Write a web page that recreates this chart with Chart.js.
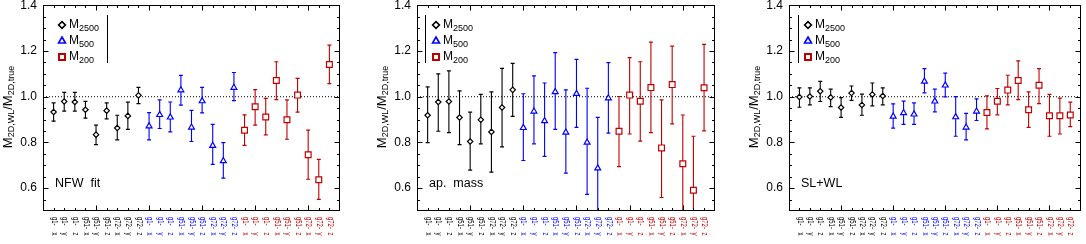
<!DOCTYPE html>
<html>
<head>
<meta charset="utf-8">
<script src="https://cdn.jsdelivr.net/npm/chart.js"></script>
<style>
html, body { margin: 0; padding: 0; background: #fff; }
#wrap { position: relative; width: 1086px; height: 244px; overflow: hidden; }
canvas { position: absolute; top: 0; }
</style>
</head>
<body>
<div id="wrap">
  <canvas id="c1" width="360" height="244" style="left:0px"></canvas>
  <canvas id="c2" width="360" height="244" style="left:360px"></canvas>
  <canvas id="c3" width="366" height="244" style="left:720px"></canvas>
</div>
<script>
// categories (same 9 projections for each mass definition)
const projections = ["g1-x", "g1-y", "g1-z", "g51-x", "g51-y", "g51-z", "g72-x", "g72-y", "g72-z"];
const massNames = ["2500", "500", "200"];
const yTicks = [0.6, 0.8, 1.0, 1.2, 1.4];

// NFW fit
const nfwMid  = [0.933, 0.979, 0.977, 0.943, 0.834, 0.939, 0.863, 0.916, 1.006,
                 0.871, 0.921, 0.910, 1.029, 0.866, 0.981, 0.786, 0.719, 1.040,
                 0.853, 0.956, 0.911, 1.071, 0.899, 1.007, 0.746, 0.637, 1.141];
const nfwLow  = [0.893, 0.937, 0.937, 0.906, 0.790, 0.903, 0.811, 0.857, 0.970,
                 0.811, 0.861, 0.846, 0.963, 0.804, 0.929, 0.704, 0.644, 0.983,
                 0.787, 0.876, 0.833, 0.987, 0.814, 0.933, 0.639, 0.551, 1.057];
const nfwHigh = [0.973, 1.019, 1.019, 0.980, 0.876, 0.973, 0.919, 0.976, 1.041,
                 0.930, 0.986, 0.977, 1.093, 0.940, 1.041, 0.879, 0.799, 1.106,
                 0.921, 1.031, 0.993, 1.153, 0.986, 1.080, 0.854, 0.726, 1.226];

// aperture mass
const apMid  = [0.919, 0.977, 0.979, 0.909, 0.804, 0.899, 0.846, 0.953, 1.030,
                0.864, 0.936, 0.894, 1.021, 0.844, 1.013, 0.800, 0.687, 0.994,
                0.849, 1.007, 0.980, 1.040, 0.776, 1.053, 0.707, 0.591, 1.039];
const apLow  = [0.799, 0.849, 0.843, 0.790, 0.679, 0.794, 0.670, 0.781, 0.914,
                0.721, 0.794, 0.739, 0.857, 0.666, 0.866, 0.573, 0.470, 0.841,
                0.694, 0.837, 0.806, 0.843, 0.559, 0.881, 0.480, 0.350, 0.851];
const apHigh = [1.043, 1.100, 1.113, 1.026, 0.933, 1.010, 1.021, 1.124, 1.146,
                1.013, 1.091, 1.060, 1.193, 1.030, 1.163, 1.037, 0.910, 1.149,
                1.001, 1.171, 1.153, 1.239, 0.986, 1.221, 0.920, 0.827, 1.229];

// SL+WL
const slMid  = [0.999, 1.001, 1.024, 0.997, 0.953, 1.016, 0.964, 1.010, 1.003,
                0.914, 0.929, 0.923, 1.067, 0.980, 1.050, 0.911, 0.866, 0.936,
                0.931, 0.980, 1.029, 1.071, 0.943, 1.050, 0.917, 0.917, 0.920];
const slLow  = [0.954, 0.964, 0.979, 0.957, 0.910, 0.984, 0.919, 0.960, 0.964,
                0.863, 0.879, 0.879, 1.017, 0.934, 0.999, 0.827, 0.811, 0.896,
                0.859, 0.921, 0.964, 0.987, 0.866, 0.970, 0.827, 0.837, 0.869];
const slHigh = [1.039, 1.039, 1.067, 1.033, 0.996, 1.047, 1.011, 1.060, 1.039,
                0.969, 0.981, 0.973, 1.123, 1.033, 1.103, 1.000, 0.927, 0.991,
                1.004, 1.036, 1.094, 1.157, 1.021, 1.123, 1.010, 0.994, 0.976];

const groupColor = ["#000000", "#0000ff", "#c00000"];
const groupShape = ["rectRot", "triangle", "rect"];
const shapeRadius = { rectRot: 2.7, triangle: 3.4, rect: 4.1 };
const FONT = '"Liberation Sans", Arial, sans-serif';

function grp(i) { return Math.floor(i / 9); }

// draws pieces [text, size, dy] one after another
function drawPieces(ctx, pieces, x, y) {
    let cx = x;
    pieces.forEach(p => {
        ctx.font = p[1] + "px " + FONT;
        ctx.fillText(p[0], cx, y + p[2]);
        cx += ctx.measureText(p[0]).width;
    });
    return cx - x;
}
function piecesWidth(ctx, pieces) {
    let w = 0;
    pieces.forEach(p => { ctx.font = p[1] + "px " + FONT; w += ctx.measureText(p[0]).width; });
    return w;
}

function legendMarker(ctx, shape, x, y, color) {
    ctx.save();
    ctx.strokeStyle = color;
    ctx.fillStyle = "#fff";
    ctx.beginPath();
    if (shape === "rectRot") {
        ctx.lineWidth = 1.6;
        const r = 3.4;
        ctx.moveTo(x, y - r); ctx.lineTo(x + r, y); ctx.lineTo(x, y + r); ctx.lineTo(x - r, y); ctx.closePath();
    } else if (shape === "triangle") {
        ctx.lineWidth = 1.6;
        const r = 4;
        ctx.moveTo(x, y - r); ctx.lineTo(x + r * 0.866, y + r * 0.5); ctx.lineTo(x - r * 0.866, y + r * 0.5); ctx.closePath();
    } else {
        ctx.lineWidth = 2;
        ctx.rect(x - 3, y - 3, 6, 6);
    }
    ctx.fill();
    ctx.stroke();
    ctx.restore();
}

const framePlugin = {
    id: "frame",
    afterDraw(chart, args, o) {
        const ctx = chart.ctx, a = chart.chartArea;
        const xs = chart.scales.x, ys = chart.scales.y;
        ctx.save();
        ctx.strokeStyle = "#000";
        ctx.lineWidth = 1;
        const L = Math.round(a.left) + 0.5, R = Math.round(a.right) - 0.5;
        const T = Math.round(a.top) + 0.5, B = Math.round(a.bottom) - 0.5;
        ctx.strokeRect(L, T, R - L, B - T);
        ctx.beginPath();
        for (let v = 1; v <= 27; v++) {
            const px = Math.round(xs.getPixelForValue(v)) + 0.5;
            const len = v % 5 === 0 ? 5 : 2.5;
            ctx.moveTo(px, B); ctx.lineTo(px, B - len);
            ctx.moveTo(px, T); ctx.lineTo(px, T + len);
        }
        for (let k = 1; k < 18; k++) {
            const py = Math.round(ys.getPixelForValue(0.5 + k * 0.05)) + 0.5;
            const len = (k - 2) % 4 === 0 ? 5 : 2.5;
            ctx.moveTo(L, py); ctx.lineTo(L + len, py);
            ctx.moveTo(R, py); ctx.lineTo(R - len, py);
        }
        ctx.stroke();

        // y tick labels
        ctx.fillStyle = "#000";
        ctx.font = "12px " + FONT;
        ctx.textAlign = "right";
        ctx.textBaseline = "middle";
        yTicks.forEach(v => {
            const py = Math.max(ys.getPixelForValue(v), 5.5);
            ctx.fillText(v.toFixed(1), a.left - 6, py);
        });

        // x category labels, rotated
        ctx.textAlign = "left";
        for (let i = 0; i < 27; i++) {
            const lab = projections[i % 9];
            const px = xs.getPixelForValue(i + 1);
            ctx.save();
            ctx.translate(px + 0.5, 217);
            ctx.rotate(Math.PI / 2);
            ctx.scale(0.7, 1);
            ctx.fillStyle = groupColor[grp(i)];
            ctx.font = "8.5px " + FONT;
            ctx.fillText(lab.slice(0, -1), 0, 0);
            ctx.fillText(lab.slice(-1), 15.5 / 0.7, 0);
            ctx.restore();
        }

        // y axis title
        ctx.save();
        ctx.translate(a.left - 35, 107);
        ctx.rotate(-Math.PI / 2);
        ctx.textAlign = "left";
        ctx.textBaseline = "middle";
        const title = [["M", 13, 0], ["2D,WL", 9, 3.5], ["/", 13, 0], ["M", 13, 0], ["2D,true", 9, 3.5]];
        drawPieces(ctx, title, -piecesWidth(ctx, title) / 2, 0);
        ctx.restore();

        // legend
        const rows = [25, 41, 57];
        massNames.forEach((m, g) => {
            legendMarker(ctx, groupShape[g], a.left + 19, rows[g], groupColor[g]);
            ctx.fillStyle = "#000";
            ctx.textAlign = "left";
            ctx.textBaseline = "middle";
            drawPieces(ctx, [["M", 12, 0], [m, 9, 3.5]], a.left + 26, rows[g]);
        });
        ctx.beginPath();
        const lx = Math.round(a.left + o.legendLine) + 0.5;
        ctx.moveTo(lx, 15); ctx.lineTo(lx, 63);
        ctx.stroke();

        // panel label
        ctx.fillStyle = "#000";
        ctx.font = "12.5px " + FONT;
        ctx.textAlign = "left";
        ctx.fillText(o.label, a.left + 12, 184);
        ctx.restore();
    }
};

function makeChart(id, mid, low, high, padLeft, padRight, panel) {
    const colors = mid.map((v, i) => groupColor[grp(i)]);
    const points = mid.map((v, i) => ({ x: i + 1, y: v }));
    const bars = mid.map((v, i) => ({ x: i + 1, y: [low[i], high[i]] }));
    const caps = [], capColors = [];
    mid.forEach((v, i) => {
        caps.push({ x: i + 1, y: low[i] }, { x: i + 1, y: high[i] });
        capColors.push(colors[i], colors[i]);
    });
    return new Chart(document.getElementById(id), {
        type: "bar",
        data: {
            datasets: [
                {
                    type: "scatter", data: points, order: 0,
                    pointStyle: points.map((p, i) => groupShape[grp(i)]),
                    pointRadius: points.map((p, i) => shapeRadius[groupShape[grp(i)]]),
                    pointBackgroundColor: "#fff",
                    pointBorderColor: colors,
                    pointBorderWidth: 1.2
                },
                {
                    type: "scatter", data: caps, order: 1,
                    pointStyle: "line", pointRadius: 2,
                    pointBorderColor: capColors, pointBorderWidth: 1.2
                },
                {
                    type: "bar", data: bars, order: 2,
                    backgroundColor: colors, borderWidth: 0,
                    barThickness: 1.1, inflateAmount: 0, grouped: false
                },
                {
                    type: "line", data: [{ x: 0, y: 1 }, { x: 28, y: 1 }], order: 3,
                    borderColor: "#000", borderWidth: 1, borderDash: [1, 2], pointRadius: 0
                }
            ]
        },
        options: {
            responsive: false,
            animation: false,
            events: [],
            layout: { padding: { left: padLeft, right: padRight, top: 1, bottom: 33 } },
            scales: {
                x: { type: "linear", min: 0, max: 28, display: false, offset: false },
                y: { type: "linear", min: 0.5, max: 1.4, display: false }
            },
            plugins: {
                legend: { display: false },
                tooltip: { enabled: false },
                frame: panel
            }
        },
        plugins: [framePlugin]
    });
}

makeChart("c1", nfwMid, nfwLow, nfwHigh, 43, 20, { label: "NFW  fit", legendLine: 64 });
makeChart("c2", apMid, apLow, apHigh, 57, 5, { label: "ap.  mass", legendLine: 8 });
makeChart("c3", slMid, slLow, slHigh, 69, 1, { label: "SL+WL", legendLine: 9 });
</script>
</body>
</html>
